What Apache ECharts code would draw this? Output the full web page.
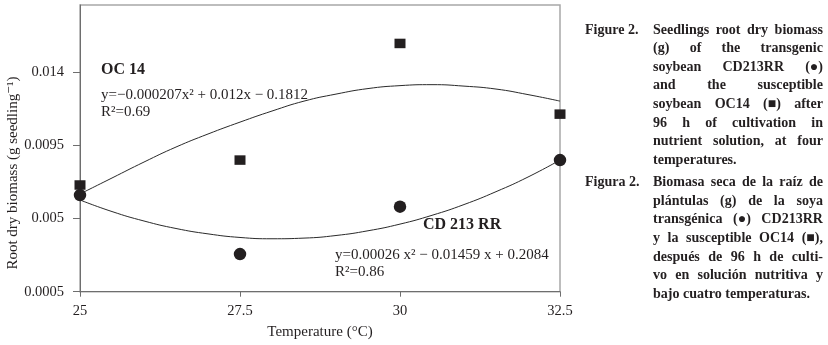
<!DOCTYPE html>
<html>
<head>
<meta charset="utf-8">
<script src="https://cdn.jsdelivr.net/npm/echarts@6/dist/echarts.min.js"></script>
<style>
html,body{margin:0;padding:0;background:#fff;}
#chart{width:828px;height:345px;}
</style>
</head>
<body>
<div id="chart"></div>
<script>
// ---- data ----
const temperatures = [25, 27.5, 30, 32.5];
const oc14Values = [0.00705, 0.00858, 0.01574, 0.0114];
const cd213Values = [0.00643, 0.00281, 0.00572, 0.00858];
// fitted trend curves
const curveX = [25, 25.5, 26, 26.5, 27, 27.5, 28, 28.5, 29, 29.5, 30, 30.5, 31, 31.5, 32, 32.5];
const oc14Curve = [0.0065, 0.00748, 0.00846, 0.00938, 0.01018, 0.01091, 0.01159, 0.0122, 0.01263, 0.01297, 0.01315, 0.01321, 0.01312, 0.01294, 0.0126, 0.0122];
const cd213Curve = [0.00613, 0.00542, 0.00484, 0.00438, 0.00405, 0.00383, 0.00375, 0.00379, 0.00395, 0.00424, 0.00465, 0.00519, 0.00585, 0.00664, 0.00754, 0.00858];
const yTicks = [0.0005, 0.005, 0.0095, 0.014];
const yTickLabels = ['0.0005', '0.005', '0.0095', '0.014'];
const xTickLabels = ['25', '27.5', '30', '32.5'];

const captionEn = [
  ['Seedlings root dry biomass', true],
  ['(g) of the transgenic', true],
  ['soybean CD213RR (\u25CF)', true],
  ['and the susceptible', true],
  ['soybean OC14 (\u25A0) after', true],
  ['96 h of cultivation in', true],
  ['nutrient solution, at four', true],
  ['temperatures.', false]
];
const captionEs = [
  ['Biomasa seca de la ra\u00EDz de', true],
  ['pl\u00E1ntulas (g) de la soya', true],
  ['transg\u00E9nica (\u25CF) CD213RR', true],
  ['y la susceptible OC14 (\u25A0),', true],
  ['despu\u00E9s de 96 h de culti-', true],
  ['vo en soluci\u00F3n nutritiva y', true],
  ['bajo cuatro temperaturas.', false]
];

const ink = '#231f20';
const serif = '"Liberation Serif", "DejaVu Serif", serif';

const chart = echarts.init(document.getElementById('chart'));

// caption layout (justified)
const bodyX0 = 653, bodyX1 = 823, lineH = 18.6;
const measure = document.createElement('canvas').getContext('2d');
measure.font = 'bold 100px ' + serif;
const w100 = measure.measureText(captionEn[0][0]).width;
let capSize = 100 * (bodyX1 - bodyX0 - 9) / w100;
capSize = Math.max(13, Math.min(16, capSize));
const capFont = 'bold ' + capSize.toFixed(2) + 'px ' + serif;
measure.font = capFont;
const graphics = [];
function addCaption(label, lines, y0) {
  graphics.push({type:'text', x:585, y:y0, style:{text:label, font:capFont, fill:ink, verticalAlign:'middle'}});
  lines.forEach((ln, i) => {
    const y = y0 + i * lineH;
    const words = ln[0].split(' ');
    if (!ln[1] || words.length < 2) {
      graphics.push({type:'text', x:bodyX0, y:y, style:{text:ln[0], font:capFont, fill:ink, verticalAlign:'middle'}});
      return;
    }
    const widths = words.map(w => measure.measureText(w).width);
    const total = widths.reduce((a,b)=>a+b,0);
    let gap = (bodyX1 - bodyX0 - total) / (words.length - 1);
    if (gap < 2.5) gap = 2.5;
    let x = bodyX0;
    words.forEach((w, k) => {
      graphics.push({type:'text', x:x, y:y, style:{text:w, font:capFont, fill:ink, verticalAlign:'middle'}});
      x += widths[k] + gap;
    });
  });
}
addCaption('Figure 2.', captionEn, 30);
addCaption('Figura 2.', captionEs, 182.5);

// in-plot annotations
const ann = [
  {t:'OC 14', x:101, y:70, f:'bold 16px ' + serif},
  {t:'y=\u22120.000207x\u00B2 + 0.012x \u2212 0.1812', x:101, y:95, f:'15px ' + serif},
  {t:'R\u00B2=0.69', x:101, y:112, f:'15px ' + serif},
  {t:'CD 213 RR', x:423, y:225, f:'bold 16px ' + serif},
  {t:'y=0.00026 x\u00B2 \u2212 0.01459 x + 0.2084', x:335, y:255, f:'15px ' + serif},
  {t:'R\u00B2=0.86', x:335, y:272.5, f:'15px ' + serif}
];
ann.forEach(a => graphics.push({type:'text', x:a.x, y:a.y, z:10, style:{text:a.t, font:a.f, fill:ink, verticalAlign:'middle'}}));

// y axis title
graphics.push({type:'text', x:13, y:173, rotation:Math.PI/2,
  style:{text:'Root dry biomass (g seedling\u207B\u00B9)', font:'15px ' + serif, fill:ink, align:'center', verticalAlign:'middle'}});

const axisColor = '#6e6e6e';
const option = {
  animation: false,
  backgroundColor: '#fff',
  grid: {left:80, top:5, width:480, height:286.7, show:true, borderColor:'#a8a8a8', borderWidth:1.5},
  xAxis: {
    type:'value', min:25, max:32.5, interval:2.5,
    name:'Temperature (\u00B0C)', nameLocation:'middle', nameGap:33,
    nameTextStyle:{fontFamily:serif, fontSize:15, color:ink},
    axisLine:{show:true, onZero:false, lineStyle:{color:axisColor, width:1}},
    axisTick:{show:true, length:5, lineStyle:{color:axisColor}},
    axisLabel:{fontFamily:serif, fontSize:14.5, color:ink, margin:12,
      formatter:(v)=>{const i = [25,27.5,30,32.5].indexOf(v); return i>=0 ? xTickLabels[i] : '';}},
    splitLine:{show:false}
  },
  yAxis: {
    type:'value', min:0.0005, max:0.0181,
    axisLine:{show:true, onZero:false, lineStyle:{color:axisColor, width:1}},
    axisTick:{show:true, length:7, customValues:yTicks, lineStyle:{color:axisColor}},
    axisLabel:{fontFamily:serif, fontSize:14.5, color:ink, margin:16, customValues:yTicks,
      formatter:(v)=>{let best=0; yTicks.forEach((t,i)=>{if(Math.abs(t-v)<Math.abs(yTicks[best]-v)) best=i;}); return yTickLabels[best];}},
    splitLine:{show:false}
  },
  series: [
    {type:'line', data:curveX.map((x,i)=>[x, oc14Curve[i]]), smooth:true, symbol:'none',
      lineStyle:{color:'#2a2a2a', width:1}, z:2},
    {type:'line', data:curveX.map((x,i)=>[x, cd213Curve[i]]), smooth:true, symbol:'none',
      lineStyle:{color:'#2a2a2a', width:1}, z:2},
    {type:'scatter', data:temperatures.map((x,i)=>[x, oc14Values[i]]), symbol:'rect', symbolSize:[11,9.5],
      itemStyle:{color:ink, opacity:1}, clip:false, z:3},
    {type:'scatter', data:temperatures.map((x,i)=>[x, cd213Values[i]]), symbol:'circle', symbolSize:12.5,
      itemStyle:{color:ink, opacity:1}, clip:false, z:4}
  ],
  graphic: graphics
};
chart.setOption(option);
</script>
</body>
</html>
